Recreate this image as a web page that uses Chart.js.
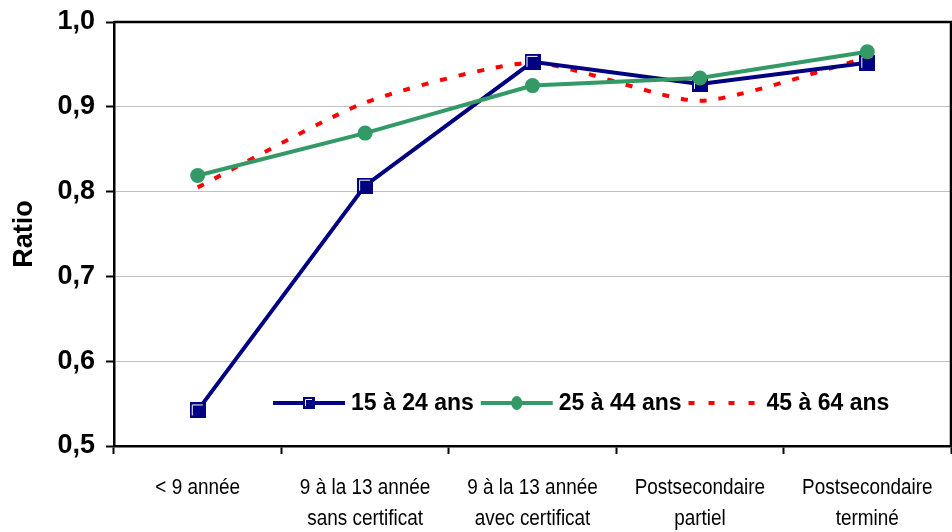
<!DOCTYPE html>
<html><head><meta charset="utf-8">
<script src="https://cdn.jsdelivr.net/npm/chart.js@4.4.1/dist/chart.umd.min.js"></script>
<style>html,body{margin:0;padding:0;background:#fff}#wrap{width:952px;height:532px}</style>
</head><body><div id="wrap"><canvas id="c" width="952" height="532"></canvas></div>
<script>
const categories = [['< 9 année'], ['9 à la 13 année', 'sans certificat'], ['9 à la 13 année', 'avec certificat'], ['Postsecondaire', 'partiel'], ['Postsecondaire', 'terminé']];
const seriesNames = ['15 à 24 ans', '25 à 44 ans', '45 à 64 ans'];
const age15to24 = [0.542, 0.807, 0.953, 0.927, 0.952];
const age25to44 = [0.819, 0.869, 0.925, 0.934, 0.965];
const age45to64 = [0.805, 0.905, 0.952, 0.907, 0.958];
const yTickLabels = ['0,5', '0,6', '0,7', '0,8', '0,9', '1,0'];
const yTitle = 'Ratio';

const NAVY = '#000080', GREEN = '#339966', RED = '#FF0000';
const sans = "'Liberation Sans', Arial, sans-serif";

function makeSquare(size) {
  const c = document.createElement('canvas'); c.width = size; c.height = size;
  const g = c.getContext('2d');
  g.fillStyle = NAVY; g.fillRect(0, 0, size, size);
  g.strokeStyle = '#fff'; g.lineWidth = 1;
  g.beginPath(); g.moveTo(2.5, size - 3); g.lineTo(2.5, 2.5); g.lineTo(size - 3, 2.5); g.stroke();
  return c;
}
const bigSquare = makeSquare(16);
const smallSquare = makeSquare(12);

const frame = {
  id: 'frame',
  afterDatasetsDraw(chart) {
    const {ctx, chartArea: a} = chart;
    ctx.save();
    ctx.strokeStyle = '#000'; ctx.lineWidth = 2.5;
    ctx.beginPath();
    ctx.moveTo(a.left, a.top); ctx.lineTo(a.right, a.top); ctx.lineTo(a.right, a.bottom);
    ctx.stroke();
    ctx.restore();
  }
};

// category labels in a condensed face (horizontal squeeze), placed by the x scale
const condensedLabels = {
  id: 'condensedLabels',
  afterDraw(chart) {
    const ctx = chart.ctx, xs = chart.scales.x;
    ctx.save();
    ctx.font = '22px ' + sans;
    ctx.fillStyle = '#000';
    ctx.textAlign = 'center';
    ctx.textBaseline = 'middle';
    xs.ticks.forEach((t, i) => {
      const px = xs.getPixelForTick(i);
      const lines = [].concat(xs.getLabelForValue(t.value));
      lines.forEach((txt, j) => {
        ctx.save();
        ctx.translate(px, xs.top + 42 + j * 31);
        ctx.scale(0.86, 1);
        ctx.fillText(txt, 0, 0);
        ctx.restore();
      });
    });
    ctx.restore();
  }
};

const legendIn = {
  id: 'legendIn',
  afterDatasetsDraw(chart) {
    const ctx = chart.ctx;
    const y = chart.scales.y.getPixelForValue(0.5) - 43;
    let x = 273;
    const lineLen = 72;
    ctx.save();
    ctx.font = 'bold 23px ' + sans;
    ctx.textBaseline = 'middle';
    ctx.fillStyle = '#000';
    const styles = [
      {color: NAVY, dash: [], marker: 'sq'},
      {color: GREEN, dash: [], marker: 'circ'},
      {color: RED, dash: [6, 14], marker: null}
    ];
    seriesNames.forEach((name, i) => {
      const s = styles[i];
      ctx.strokeStyle = s.color; ctx.lineWidth = 4; ctx.setLineDash(s.dash);
      ctx.beginPath(); ctx.moveTo(x, y); ctx.lineTo(x + lineLen, y); ctx.stroke();
      ctx.setLineDash([]);
      const mx = x + lineLen / 2;
      if (s.marker === 'sq') ctx.drawImage(smallSquare, mx - 6, y - 6);
      if (s.marker === 'circ') { ctx.fillStyle = GREEN; ctx.beginPath(); ctx.ellipse(mx, y, 5.5, 7, 0, 0, Math.PI * 2); ctx.fill(); }
      x += lineLen + 6;
      ctx.fillStyle = '#000';
      ctx.fillText(name, x, y + 1);
      x += ctx.measureText(name).width + 7;
    });
    ctx.restore();
  }
};

const chart = new Chart(document.getElementById('c'), {
  type: 'line',
  data: {
    labels: categories,
    datasets: [
      {label: seriesNames[0], data: age15to24, borderColor: NAVY, backgroundColor: NAVY, borderWidth: 4,
       pointStyle: bigSquare, pointRadius: 8, tension: 0, order: 1},
      {label: seriesNames[1], data: age25to44, borderColor: GREEN, backgroundColor: GREEN, borderWidth: 4,
       pointStyle: 'circle', pointRadius: 7.5, pointBorderWidth: 0, tension: 0, order: 0},
      {label: seriesNames[2], data: age45to64, borderColor: RED, backgroundColor: RED, borderWidth: 4,
       borderDash: [7, 12], pointRadius: 0, tension: 0.2, order: 2}
    ]
  },
  options: {
    responsive: false,
    devicePixelRatio: 1,
    animation: false,
    layout: {autoPadding: false, padding: {top: 22, right: 1, left: 0, bottom: 0}},
    plugins: {legend: {display: false}, tooltip: {enabled: false}},
    scales: {
      x: {
        offset: true,
        grid: {offset: true, drawOnChartArea: false, drawTicks: true, tickLength: 8, tickColor: '#000', tickWidth: 2},
        border: {display: true, color: '#000', width: 2.5},
        ticks: {color: 'rgba(0,0,0,0)', font: {family: sans, size: 18, lineHeight: 1.4}, padding: 20, maxRotation: 0, autoSkip: false},
        afterFit(s) { s.height = 86; s.paddingLeft = 0; s.paddingRight = 0; }
      },
      y: {
        min: 0.5, max: 1.0,
        ticks: {stepSize: 0.1, color: '#000', font: {family: sans, size: 27, weight: 'bold'}, padding: 11,
                callback: (v, i) => yTickLabels[i]},
        grid: {
          color: (ctx) => (ctx.index === 0 || ctx.index === yTickLabels.length - 1) ? 'rgba(0,0,0,0)' : '#C0C0C0',
          lineWidth: 1, tickLength: 8, tickColor: '#000', tickWidth: 2
        },
        border: {display: true, color: '#000', width: 2.5},
        title: {display: true, text: yTitle, color: '#000', font: {family: sans, size: 27, weight: 'bold'}, padding: {top: 8, bottom: 0}},
        afterFit(s) { s.width = 114; s.paddingTop = 0; s.paddingBottom = 0; }
      }
    }
  },
  plugins: [frame, condensedLabels, legendIn]
});
</script></body></html>
